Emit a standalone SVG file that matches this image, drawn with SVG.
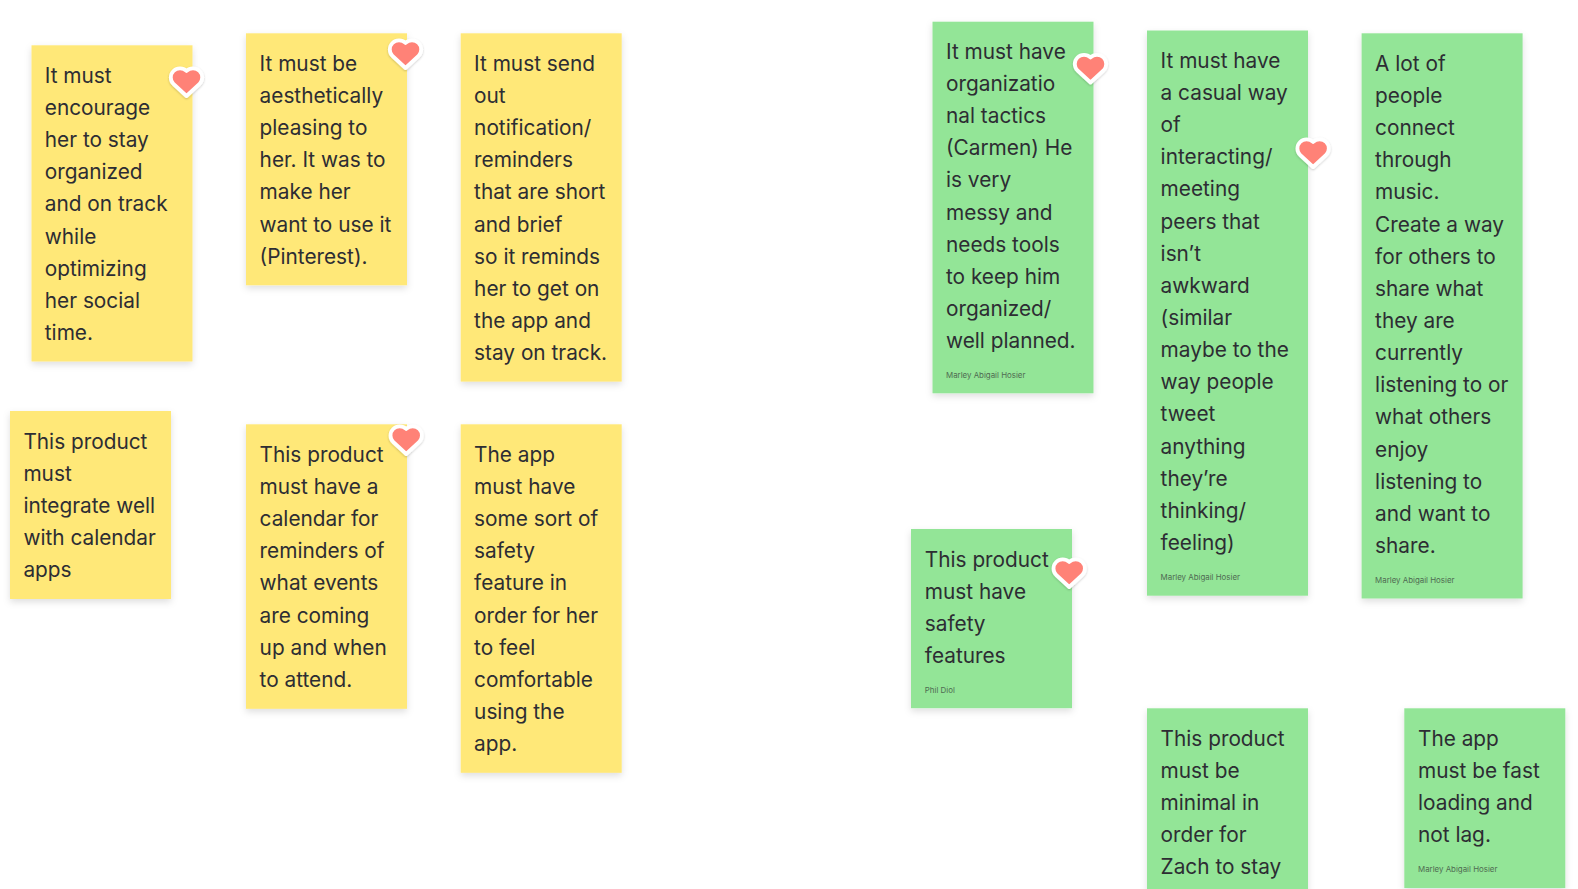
<svg xmlns="http://www.w3.org/2000/svg" width="1578" height="889" viewBox="0 0 1578 889">
<style>
.y{fill:#FFE878;filter:url(#s)}
.g{fill:#93E597;filter:url(#s)}
.t{font-family:Inter,"Noto Sans","Liberation Sans",sans-serif;font-size:20.8px;fill:#2D2D33}
.a{font-family:Inter,"Noto Sans","Liberation Sans",sans-serif;font-size:7.9px;fill:#4F6B52}
</style>
<defs>
<filter id="s" x="-15%" y="-15%" width="130%" height="130%"><feDropShadow dx="0" dy="3" stdDeviation="3.5" flood-color="#000" flood-opacity="0.13"/></filter>
<filter id="hs" x="-30%" y="-30%" width="160%" height="160%"><feDropShadow dx="0" dy="1" stdDeviation="1" flood-color="#000" flood-opacity="0.2"/></filter>
<path id="h" d="M0.5 15 L-12.5 3 A9.19 9.19 0 0 1 .5 -10 A9.19 9.19 0 0 1 13.5 3 Z" fill="#FF8277" stroke="#fff" stroke-width="3.8" stroke-linejoin="round" filter="url(#hs)"/>
</defs>
<rect width="1578" height="889" fill="#fff"/>
<g id="note-1"><rect class="y" x="31.5" y="45.3" width="161" height="316.2"/>
<text class="t" y="82.8"><tspan x="44.8" dy="0">It must</tspan><tspan x="44.8" dy="32.15">encourage</tspan><tspan x="44.8" dy="32.15">her to stay</tspan><tspan x="44.8" dy="32.15">organized</tspan><tspan x="44.8" dy="32.15">and on track</tspan><tspan x="44.8" dy="32.15">while</tspan><tspan x="44.8" dy="32.15">optimizing</tspan><tspan x="44.8" dy="32.15">her social</tspan><tspan x="44.8" dy="32.15">time.</tspan></text><use href="#h" x="186" y="81"/></g>
<g id="note-2"><rect class="y" x="246" y="33.3" width="161" height="252"/>
<text class="t" y="70.8"><tspan x="259.6" dy="0">It must be</tspan><tspan x="259.6" dy="32.15">aesthetically</tspan><tspan x="259.6" dy="32.15">pleasing to</tspan><tspan x="259.6" dy="32.15">her. It was to</tspan><tspan x="259.6" dy="32.15">make her</tspan><tspan x="259.6" dy="32.15">want to use it</tspan><tspan x="259.6" dy="32.15">(Pinterest).</tspan></text><use href="#h" x="405" y="53"/></g>
<g id="note-3"><rect class="y" x="460.7" y="33.3" width="161" height="348.3"/>
<text class="t" y="70.8"><tspan x="474.1" dy="0">It must send</tspan><tspan x="474.1" dy="32.15">out</tspan><tspan x="474.1" dy="32.15">notification/</tspan><tspan x="474.1" dy="32.15">reminders</tspan><tspan x="474.1" dy="32.15">that are short</tspan><tspan x="474.1" dy="32.15">and brief</tspan><tspan x="474.1" dy="32.15">so it reminds</tspan><tspan x="474.1" dy="32.15">her to get on</tspan><tspan x="474.1" dy="32.15">the app and</tspan><tspan x="474.1" dy="32.15">stay on track.</tspan></text></g>
<g id="note-4"><rect class="y" x="10" y="411" width="161" height="188"/>
<text class="t" y="448.8"><tspan x="23.4" dy="0">This product</tspan><tspan x="23.4" dy="32.15">must</tspan><tspan x="23.4" dy="32.15">integrate well</tspan><tspan x="23.4" dy="32.15">with calendar</tspan><tspan x="23.4" dy="32.15">apps</tspan></text></g>
<g id="note-5"><rect class="y" x="246" y="424.3" width="161" height="284.5"/>
<text class="t" y="461.8"><tspan x="259.6" dy="0">This product</tspan><tspan x="259.6" dy="32.15">must have a</tspan><tspan x="259.6" dy="32.15">calendar for</tspan><tspan x="259.6" dy="32.15">reminders of</tspan><tspan x="259.6" dy="32.15">what events</tspan><tspan x="259.6" dy="32.15">are coming</tspan><tspan x="259.6" dy="32.15">up and when</tspan><tspan x="259.6" dy="32.15">to attend.</tspan></text><use href="#h" x="405.7" y="439"/></g>
<g id="note-6"><rect class="y" x="460.7" y="424.3" width="161" height="348.5"/>
<text class="t" y="461.8"><tspan x="474.1" dy="0">The app</tspan><tspan x="474.1" dy="32.15">must have</tspan><tspan x="474.1" dy="32.15">some sort of</tspan><tspan x="474.1" dy="32.15">safety</tspan><tspan x="474.1" dy="32.15">feature in</tspan><tspan x="474.1" dy="32.15">order for her</tspan><tspan x="474.1" dy="32.15">to feel</tspan><tspan x="474.1" dy="32.15">comfortable</tspan><tspan x="474.1" dy="32.15">using the</tspan><tspan x="474.1" dy="32.15">app.</tspan></text></g>
<g id="note-7"><rect class="g" x="932.5" y="21.7" width="161" height="371.6"/>
<text class="t" y="58.8"><tspan x="946" dy="0">It must have</tspan><tspan x="946" dy="32.15">organizatio</tspan><tspan x="946" dy="32.15">nal tactics</tspan><tspan x="946" dy="32.15">(Carmen) He</tspan><tspan x="946" dy="32.15">is very</tspan><tspan x="946" dy="32.15">messy and</tspan><tspan x="946" dy="32.15">needs tools</tspan><tspan x="946" dy="32.15">to keep him</tspan><tspan x="946" dy="32.15">organized/</tspan><tspan x="946" dy="32.15">well planned.</tspan></text><text class="a" x="946" y="378">Marley Abigail Hosier</text><use href="#h" x="1090" y="67.5"/></g>
<g id="note-8"><rect class="g" x="1147" y="30.5" width="161" height="565.2"/>
<text class="t" y="67.8"><tspan x="1160.6" dy="0">It must have</tspan><tspan x="1160.6" dy="32.15">a casual way</tspan><tspan x="1160.6" dy="32.15">of</tspan><tspan x="1160.6" dy="32.15">interacting/</tspan><tspan x="1160.6" dy="32.15">meeting</tspan><tspan x="1160.6" dy="32.15">peers that</tspan><tspan x="1160.6" dy="32.15">isn’t</tspan><tspan x="1160.6" dy="32.15">awkward</tspan><tspan x="1160.6" dy="32.15">(similar</tspan><tspan x="1160.6" dy="32.15">maybe to the</tspan><tspan x="1160.6" dy="32.15">way people</tspan><tspan x="1160.6" dy="32.15">tweet</tspan><tspan x="1160.6" dy="32.15">anything</tspan><tspan x="1160.6" dy="32.15">they’re</tspan><tspan x="1160.6" dy="32.15">thinking/</tspan><tspan x="1160.6" dy="32.15">feeling)</tspan></text><text class="a" x="1160.6" y="580">Marley Abigail Hosier</text><use href="#h" x="1312.6" y="152"/></g>
<g id="note-9"><rect class="g" x="1361.6" y="33.3" width="161" height="565.2"/>
<text class="t" y="70.8"><tspan x="1375.1" dy="0">A lot of</tspan><tspan x="1375.1" dy="32.15">people</tspan><tspan x="1375.1" dy="32.15">connect</tspan><tspan x="1375.1" dy="32.15">through</tspan><tspan x="1375.1" dy="32.15">music.</tspan><tspan x="1375.1" dy="32.15">Create a way</tspan><tspan x="1375.1" dy="32.15">for others to</tspan><tspan x="1375.1" dy="32.15">share what</tspan><tspan x="1375.1" dy="32.15">they are</tspan><tspan x="1375.1" dy="32.15">currently</tspan><tspan x="1375.1" dy="32.15">listening to or</tspan><tspan x="1375.1" dy="32.15">what others</tspan><tspan x="1375.1" dy="32.15">enjoy</tspan><tspan x="1375.1" dy="32.15">listening to</tspan><tspan x="1375.1" dy="32.15">and want to</tspan><tspan x="1375.1" dy="32.15">share.</tspan></text><text class="a" x="1375.1" y="583">Marley Abigail Hosier</text></g>
<g id="note-10"><rect class="g" x="911" y="529" width="161" height="179.2"/>
<text class="t" y="566.8"><tspan x="924.8" dy="0">This product</tspan><tspan x="924.8" dy="32.15">must have</tspan><tspan x="924.8" dy="32.15">safety</tspan><tspan x="924.8" dy="32.15">features</tspan></text><text class="a" x="924.8" y="693">Phil Diol</text><use href="#h" x="1068.7" y="572"/></g>
<g id="note-11"><rect class="g" x="1147" y="708.3" width="161" height="190"/>
<text class="t" y="745.8"><tspan x="1160.6" dy="0">This product</tspan><tspan x="1160.6" dy="32.15">must be</tspan><tspan x="1160.6" dy="32.15">minimal in</tspan><tspan x="1160.6" dy="32.15">order for</tspan><tspan x="1160.6" dy="32.15">Zach to stay</tspan></text></g>
<g id="note-12"><rect class="g" x="1404.3" y="708.3" width="161" height="179.7"/>
<text class="t" y="745.8"><tspan x="1418" dy="0">The app</tspan><tspan x="1418" dy="32.15">must be fast</tspan><tspan x="1418" dy="32.15">loading and</tspan><tspan x="1418" dy="32.15">not lag.</tspan></text><text class="a" x="1418" y="872">Marley Abigail Hosier</text></g>
</svg>
